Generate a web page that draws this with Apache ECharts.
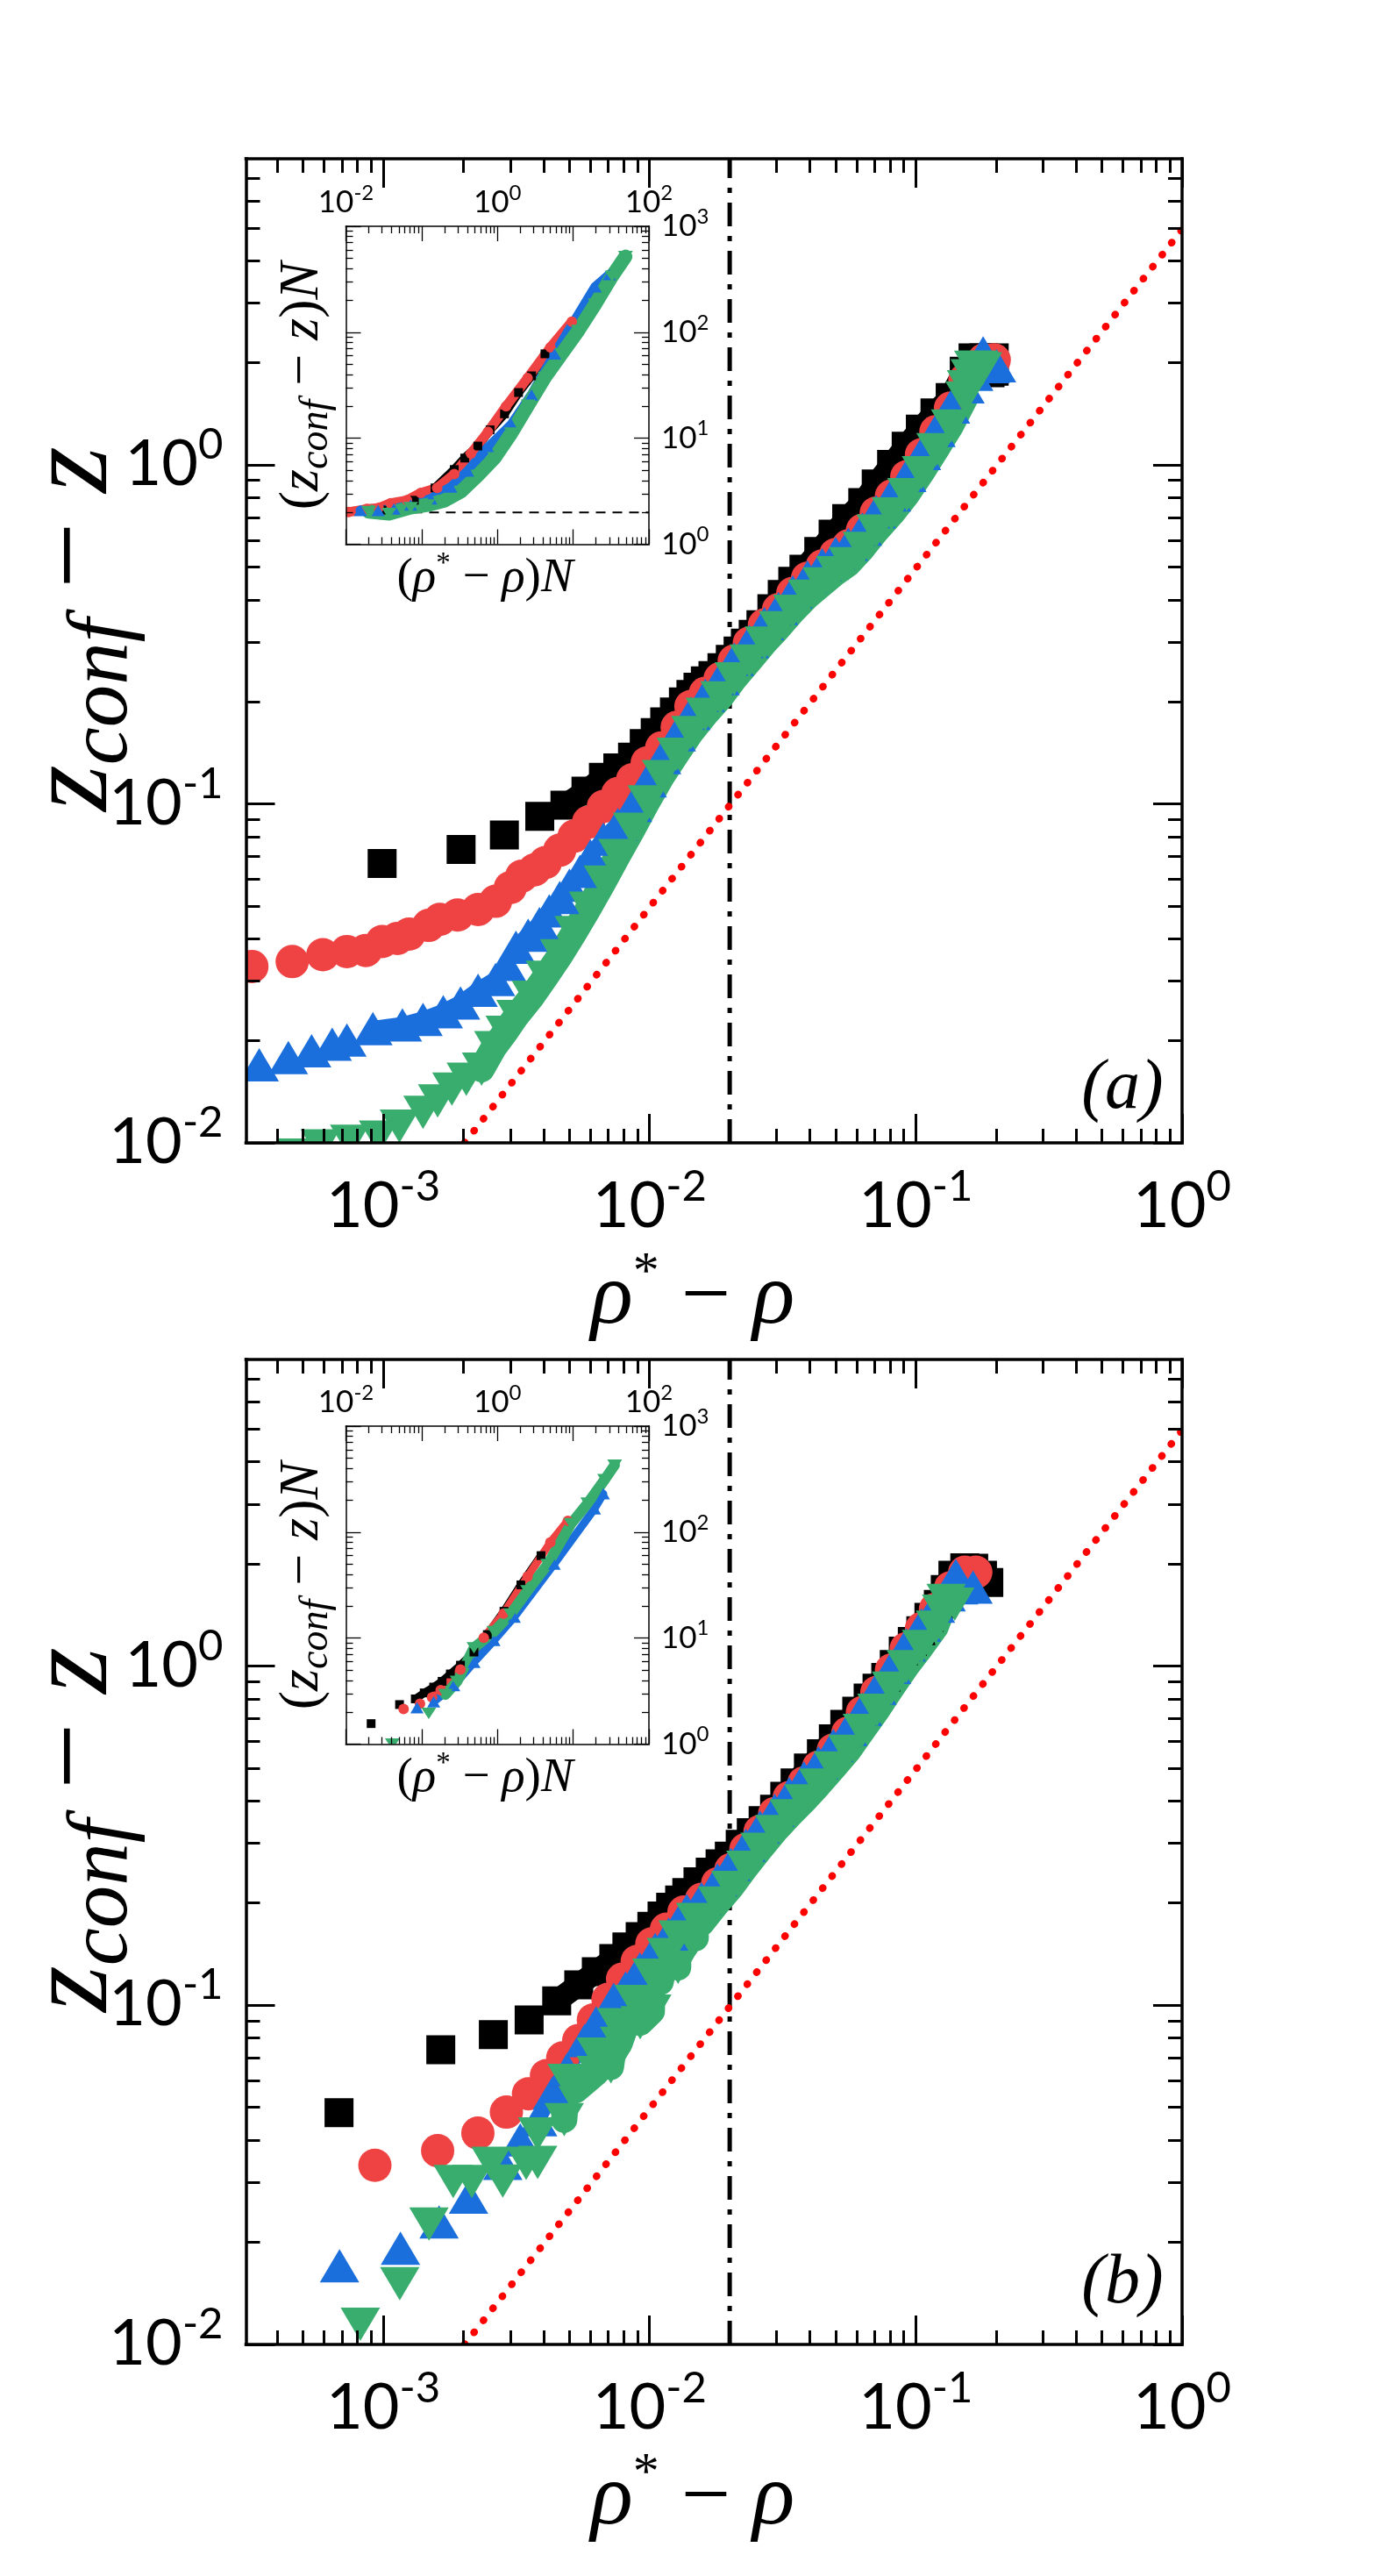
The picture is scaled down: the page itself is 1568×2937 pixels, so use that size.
<!DOCTYPE html>
<html>
<head>
<meta charset="utf-8">
<script src="https://cdn.jsdelivr.net/npm/echarts@6.0.0/dist/echarts.min.js"></script>
<style>
html, body { margin: 0; padding: 0; background: #fff; }
#chart { width: 1568px; height: 2937px; }
</style>
</head>
<body>
<div id="chart"></div>
<script>
var NUM_FONT = 'Lato';
var MATH_FONT = 'Liberation Serif';
var BLACK = '#000000', RED = '#ef4343', BLUE = '#1b6fdc', GREEN = '#38ad6d', DOT_RED = '#ff0000';

// axis ranges
var mainX = [3.05e-4, 1];
var mainY = [0.01, 8];
var insetX = [0.01, 100];
var insetY = [1, 1000];

// major ticks and labelled ticks
var mainXMajor = [1e-3, 1e-2, 1e-1, 1];
var mainYMajor = [0.01, 0.1, 1];
var insetXMajor = [0.01, 0.1, 1, 10, 100];
var insetYMajor = [1, 10, 100, 1000];
var mainXLabels = [1e-3, 1e-2, 1e-1, 1];
var mainYLabels = [0.01, 0.1, 1];
var insetXLabels = [0.01, 1, 100];
var insetYLabels = [1, 10, 100, 1000];

// ---- panel (a), main ----
var sqA = [[9.9e-4,0.0667],[1.96e-3,0.0734],[2.85e-3,0.0810],[3.87e-3,0.0919],[4.81e-3,0.0991],[5.77e-3,0.109],[6.71e-3,0.1197],[7.6e-3,0.1276],[8.63e-3,0.1374],[9.55e-3,0.1507],[0.0105,0.1622],[0.0114,0.1745],[0.0124,0.1868],[0.0134,0.1999],[0.0143,0.2104],[0.0152,0.2209],[0.0162,0.2305],[0.0173,0.2392],[0.0187,0.2522],[0.0201,0.2670],[0.0215,0.2826],[0.0229,0.2981],[0.0245,0.3162],[0.0262,0.3379],[0.0288,0.3764],[0.0315,0.4150],[0.0345,0.4532],[0.038,0.4925],[0.0432,0.5552],[0.0489,0.6245],[0.055,0.6942],[0.0632,0.7738],[0.071,0.8781],[0.0811,1.003],[0.092,1.136],[0.104,1.275],[0.118,1.423],[0.1346,1.579],[0.152,1.888],[0.164,2.07],[0.18,2.07],[0.197,2.07],[0.197,1.89],[0.19,1.87]];
var circA = [[3.21e-4,0.03314],[4.55e-4,0.03425],[5.93e-4,0.0359],[7.3e-4,0.03667],[8.6e-4,0.03695],[9.9e-4,0.03926],[1.13e-3,0.0401],[1.25e-3,0.0413],[1.48e-3,0.0438],[1.63e-3,0.0456],[1.9e-3,0.047],[2.27e-3,0.0488],[2.64e-3,0.0516],[3.0e-3,0.0566],[3.31e-3,0.0612],[3.7e-3,0.0639],[4.06e-3,0.0671],[4.6e-3,0.073],[5.21e-3,0.0803],[5.9e-3,0.0883],[6.71e-3,0.0982],[7.6e-3,0.1072],[8.63e-3,0.1178],[9.8e-3,0.1321],[0.0111,0.1463],[0.0127,0.1683],[0.0143,0.1937],[0.0162,0.212],[0.0184,0.234],[0.0208,0.264],[0.0237,0.298],[0.027,0.337],[0.0305,0.374],[0.0345,0.418],[0.0392,0.463],[0.0445,0.503],[0.05,0.544],[0.0558,0.577],[0.063,0.641],[0.071,0.721],[0.081,0.809],[0.0925,0.923],[0.105,1.071],[0.119,1.253],[0.135,1.47],[0.153,1.78],[0.18,2.04],[0.197,2.04]];
var triA = [[3.42e-4,0.0170],[4.4e-4,0.01785],[5.38e-4,0.0187],[6.43e-4,0.01955],[7.3e-4,0.02012],[9.14e-4,0.02172],[1.18e-3,0.02229],[1.41e-3,0.02313],[1.68e-3,0.02435],[1.95e-3,0.02585],[2.27e-3,0.0282],[2.64e-3,0.03034],[2.9e-3,0.0336],[3.15e-3,0.03778],[3.5e-3,0.04101],[3.86e-3,0.04433],[4.2e-3,0.04837],[4.6e-3,0.05295],[5.0e-3,0.05752],[5.48e-3,0.06325],[6.0e-3,0.07026],[6.71e-3,0.07866],[7.6e-3,0.087],[8.63e-3,0.099],[9.8e-3,0.117],[0.0111,0.137],[0.0126,0.160],[0.0143,0.185],[0.0162,0.209],[0.0184,0.234],[0.0208,0.267],[0.0237,0.301],[0.027,0.340],[0.0305,0.377],[0.0345,0.422],[0.0392,0.467],[0.0445,0.508],[0.05,0.548],[0.0558,0.583],[0.063,0.646],[0.071,0.727],[0.081,0.816],[0.0925,0.931],[0.105,1.081],[0.119,1.264],[0.135,1.483],[0.153,1.70],[0.165,1.85],[0.179,2.14],[0.19,1.95],[0.201,1.96]];
var dtriA = [[4.7e-4,0.0092],[5.8e-4,0.0098],[7.48e-4,0.0101],[9.6e-4,0.0104],[1.15e-3,0.0112],[1.41e-3,0.0123],[1.6e-3,0.0133],[1.81e-3,0.0144],[2.05e-3,0.0154],[2.34e-3,0.0165],[2.6e-3,0.0191],[2.87e-3,0.0212],[3.15e-3,0.0236],[3.6e-3,0.0269],[4.06e-3,0.0308],[4.6e-3,0.0356],[5.21e-3,0.0417],[5.9e-3,0.0492],[6.71e-3,0.0588],[7.6e-3,0.0704],[8.63e-3,0.0842],[9.8e-3,0.1014],[0.0111,0.1203],[0.0126,0.140],[0.0143,0.1623],[0.0162,0.1835],[0.0184,0.2054],[0.0208,0.2338],[0.0237,0.2637],[0.027,0.2982],[0.0305,0.3308],[0.0345,0.370],[0.0392,0.4098],[0.0445,0.4453],[0.05,0.481],[0.0558,0.511],[0.063,0.567],[0.071,0.638],[0.081,0.716],[0.0925,0.817],[0.105,0.948],[0.119,1.109],[0.135,1.301],[0.153,1.575],[0.155,1.7],[0.16,1.83],[0.165,1.94],[0.172,1.94],[0.178,1.92]];

// ---- panel (a), inset ----
var sqAi = [[0.03,2.1],[0.08,2.6],[0.15,3.4],[0.269,5.07],[0.37,6.5],[0.551,8.44],[0.8,12],[1.24,17.0],[1.9,27],[2.82,38.8],[4.24,62.6]];
var circAi = [[0.0108,2.01],[0.0188,2.15],[0.027,2.2],[0.039,2.44],[0.064,2.6],[0.0975,3.05],[0.16,3.4],[0.269,4.6],[0.447,7.2],[0.75,11.5],[1.3,20],[2.5,37],[5,72],[9.6,126]];
var triAi = [[0.0155,2.08],[0.0266,2.08],[0.043,2.15],[0.0716,2.35],[0.132,2.68],[0.243,3.46],[0.405,4.9],[0.75,8.2],[1.53,13.5],[2.82,25.7],[5.7,62.6],[19.5,268],[30,350]];
var dtriAi = [[0.02,2.03],[0.037,1.95],[0.0716,2.22],[0.12,2.35],[0.199,2.58],[0.331,3.15],[0.551,4.46],[0.918,6.53],[1.53,11.2],[2.54,20.5],[4.24,37.6],[7.05,62.6],[11.7,104],[19.5,184],[32.6,338],[49,518]];
var insetDash = [[0.01,2],[100,2]];

// ---- panel (b), main ----
var sqB = [[6.82e-4,0.0482],[1.644e-3,0.0739],[2.59e-3,0.0819],[3.53e-3,0.0905],[4.48e-3,0.1029],[5.42e-3,0.1148],[6.31e-3,0.1256],[7.34e-3,0.1373],[8.22e-3,0.1486],[9.22e-3,0.1593],[0.0102,0.1707],[0.01114,0.1831],[0.0120,0.1943],[0.01297,0.2042],[0.0138,0.2147],[0.0152,0.231],[0.0169,0.2466],[0.0184,0.261],[0.01993,0.2750],[0.0219,0.298],[0.0241,0.3224],[0.0267,0.35],[0.02948,0.378],[0.0322,0.413],[0.0352,0.4518],[0.0395,0.50],[0.0442,0.5513],[0.049,0.61],[0.0541,0.672],[0.06,0.735],[0.0662,0.8035],[0.0715,0.86],[0.0771,0.924],[0.083,1.01],[0.0897,1.105],[0.097,1.18],[0.1044,1.269],[0.112,1.39],[0.1215,1.517],[0.129,1.68],[0.1378,1.850],[0.1527,1.945],[0.165,1.94],[0.178,1.85],[0.188,1.76]];
var circB = [[9.3e-4,0.03373],[1.6e-3,0.03724],[2.266e-3,0.04196],[2.9e-3,0.0484],[3.51e-3,0.0548],[4.1e-3,0.062],[4.72e-3,0.0699],[5.42e-3,0.0787],[6.15e-3,0.0905],[6.98e-3,0.104],[7.92e-3,0.1194],[8.99e-3,0.1346],[0.0102,0.1516],[0.01157,0.1674],[0.01346,0.1880],[0.01567,0.205],[0.018,0.228],[0.0202,0.251],[0.023,0.288],[0.026,0.325],[0.0295,0.367],[0.03345,0.409],[0.038,0.452],[0.0431,0.503],[0.049,0.565],[0.0555,0.633],[0.063,0.729],[0.0714,0.836],[0.081,0.972],[0.092,1.124],[0.105,1.288],[0.1185,1.469],[0.135,1.70],[0.1527,1.888],[0.168,1.888]];
var triB = [[6.85e-4,0.01706],[1.16e-3,0.01922],[1.62e-3,0.02298],[2.09e-3,0.0272],[2.81e-3,0.0342],[3.27e-3,0.0401],[3.8e-3,0.046],[4.32e-3,0.0551],[4.9e-3,0.0646],[5.7e-3,0.0787],[6.3e-3,0.0888],[7.34e-3,0.104],[8.13e-3,0.1125],[9.2e-3,0.128],[0.0105,0.146],[0.0118,0.162],[0.0128,0.175],[0.0138,0.19],[0.01567,0.206],[0.018,0.234],[0.0202,0.26],[0.023,0.296],[0.026,0.335],[0.0295,0.375],[0.03345,0.42],[0.038,0.468],[0.0431,0.518],[0.049,0.583],[0.0555,0.65],[0.063,0.745],[0.0714,0.86],[0.081,0.99],[0.092,1.155],[0.105,1.32],[0.1185,1.50],[0.13,1.62],[0.1413,1.847],[0.145,1.70],[0.164,1.707]];
var dtriB = [[8.2e-4,0.01147],[1.153e-3,0.0151],[1.485e-3,0.02265],[1.83e-3,0.03022],[2.15e-3,0.03022],[2.54e-3,0.0342],[2.81e-3,0.0303],[3.44e-3,0.0342],[3.8e-3,0.0344],[3.8e-3,0.0417],[4.78e-3,0.046],[4.9e-3,0.06],[5.28e-3,0.0562],[6.31e-3,0.0633],[6.31e-3,0.0717],[7.16e-3,0.0658],[7.52e-3,0.0875],[7.72e-3,0.0772],[8.76e-3,0.1025],[9.22e-3,0.0888],[0.0102,0.096],[0.0102,0.1226],[0.011,0.117],[0.01157,0.1409],[0.0128,0.1293],[0.0128,0.1587],[0.0149,0.1578],[0.0149,0.1788],[0.01567,0.1745],[0.018,0.2],[0.0202,0.2223],[0.023,0.255],[0.026,0.288],[0.0295,0.325],[0.03345,0.3616],[0.038,0.40],[0.0431,0.4453],[0.049,0.50],[0.0555,0.560],[0.063,0.645],[0.0714,0.740],[0.081,0.86],[0.092,0.995],[0.105,1.14],[0.1185,1.30],[0.125,1.45],[0.130,1.56],[0.14,1.52]];

// ---- panel (b), inset ----
var sqBiSparse = [[0.0215,1.56],[0.051,2.36]];
var sqBi = [[0.0824,2.67],[0.108,3.04],[0.144,3.45],[0.186,3.91],[0.239,4.59],[0.325,5.55],[0.49,7.39],[0.736,10.8],[1.22,17.9],[2.04,31.8],[3.76,60]];
var circBiSparse = [[0.0577,2.14],[0.095,2.4]];
var circBi = [[0.137,2.76],[0.178,3.23],[0.325,5.05],[0.66,10.1],[1.2,17],[2.5,38],[5,80],[8.5,128]];
var triBiSparse = [[0.0867,2.21]];
var triBi = [[0.144,2.51],[0.265,3.56],[0.49,5.91],[0.9,9.5],[1.67,15.8],[5.6,50],[19.1,166],[25,230]];
var dtriBiSparse = [[0.041,1.0],[0.124,1.95]];
var dtriBi = [[0.206,2.94],[0.294,3.91],[0.49,8.1],[0.9,11.5],[1.5,16.9],[2.5,28],[4.6,49.6],[9.4,120],[15.6,188],[26,312],[35.3,429]];

// guide lines (same in both panels)
var dotLine = [[0.00202,0.01],[1,4.95]];
var dashDot = [[0.02,0.01],[0.02,8]];

// minor log ticks 2..9 within a range
function minorTicks(lo, hi) {
  var out = [];
  for (var e = -5; e <= 4; e++) {
    for (var m = 2; m <= 9; m++) {
      var v = +(m * Math.pow(10, e)).toPrecision(6);
      if (v > lo && v < hi * 0.999) out.push(v);
    }
  }
  return out;
}

function expLabels(values, size, margin) {
  var L = Math.round(size * 1.3);
  return {
    show: true, customValues: values, margin: margin,
    formatter: function (v) { return '{b|10}{s|' + Math.round(Math.log10(v)) + '}'; },
    rich: {
      b: { fontFamily: NUM_FONT, fontSize: size, lineHeight: L, color: '#000' },
      s: { fontFamily: NUM_FONT, fontSize: Math.round(size * 0.68), lineHeight: Math.round(size * 0.64), verticalAlign: 'top', color: '#000' }
    }
  };
}

// rich styles for the math titles (k scales the size)
function mathRich(k) {
  return {
    it: { fontFamily: MATH_FONT, fontStyle: 'italic', fontSize: Math.round(100 * k), lineHeight: Math.round(120 * k), fill: '#000' },
    up: { fontFamily: MATH_FONT, fontSize: Math.round(100 * k), lineHeight: Math.round(120 * k), fill: '#000' },
    sup: { fontFamily: MATH_FONT, fontSize: Math.round(60 * k), lineHeight: Math.round(64 * k), verticalAlign: 'top', fill: '#000' },
    sub: { fontFamily: MATH_FONT, fontStyle: 'italic', fontSize: Math.round(72 * k), lineHeight: Math.round(76 * k), verticalAlign: 'bottom', fill: '#000' }
  };
}
var X_TITLE = '{it|ρ}{sup|*}{up| − }{it|ρ}';
var Y_TITLE = '{it|z}{sub|conf}{up| − }{it|z}';
var X_INSET_TITLE = '{up|(}{it|ρ}{sup|*}{up| − }{it|ρ}{up|)}{it|N}';
var Y_INSET_TITLE = '{up|(}{it|z}{sub|conf}{up| − }{it|z}{up|)}{it|N}';

function ax(gi, pos, range, ticks, len, tw, lineW, label) {
  var a = {
    type: 'log', logBase: 10, gridIndex: gi, position: pos,
    min: range[0], max: range[1], z: 10, silent: true,
    axisLine: { show: lineW > 0, onZero: false, lineStyle: { color: '#000', width: lineW || 1, cap: 'square' } },
    axisTick: { show: true, inside: true, length: len, customValues: ticks, lineStyle: { color: '#000', width: tw } },
    axisLabel: { show: false },
    splitLine: { show: false },
    minorTick: { show: false },
    minorSplitLine: { show: false },
    axisPointer: { show: false }
  };
  if (label) a.axisLabel = label;
  return a;
}

var grids = [
  { left: 280.5, top: 181, width: 1067.5, height: 1122 },
  { left: 394.5, top: 258, width: 345.5, height: 362.5 },
  { left: 280.5, top: 1550, width: 1067.5, height: 1123 },
  { left: 394.5, top: 1626, width: 345.5, height: 362.5 }
];
var isMain = [true, false, true, false];

var xAxes = [], yAxes = [];
for (var g = 0; g < 4; g++) {
  var m = isMain[g];
  var xr = m ? mainX : insetX, yr = m ? mainY : insetY;
  var xMaj = m ? mainXMajor : insetXMajor, yMaj = m ? mainYMajor : insetYMajor;
  var xMin = minorTicks(xr[0], xr[1]), yMin = minorTicks(yr[0], yr[1]);
  var L = m ? 33 : 17, l = m ? 16 : 8, tw = m ? 3 : 1.3, lw = m ? 3.5 : 1.5;
  xAxes.push(ax(g, 'bottom', xr, xMaj, L, tw, lw, m ? expLabels(mainXLabels, 72, 26) : null));
  xAxes.push(ax(g, 'bottom', xr, xMin, l, tw, 0, null));
  xAxes.push(ax(g, 'top', xr, xMaj, L, tw, lw, m ? null : expLabels(insetXLabels, 35, 4)));
  xAxes.push(ax(g, 'top', xr, xMin, l, tw, 0, null));
  yAxes.push(ax(g, 'left', yr, yMaj, L, tw, lw, m ? expLabels(mainYLabels, 72, 26) : null));
  yAxes.push(ax(g, 'left', yr, yMin, l, tw, 0, null));
  yAxes.push(ax(g, 'right', yr, yMaj, L, tw, lw, m ? null : expLabels(insetYLabels, 35, 14)));
  yAxes.push(ax(g, 'right', yr, yMin, l, tw, 0, null));
}

function pts(data, gi, symbol, size, color, rotate) {
  return { type: 'scatter', data: data, xAxisIndex: gi * 4, yAxisIndex: gi * 4, symbol: symbol, symbolSize: size,
    symbolRotate: rotate || 0, itemStyle: { color: color, opacity: 1 }, clip: false, silent: true, z: 2 };
}
function band(data, gi, symbol, size, color, rotate, width) {
  return { type: 'line', data: data, xAxisIndex: gi * 4, yAxisIndex: gi * 4, symbol: symbol, symbolSize: size,
    symbolRotate: rotate || 0, showSymbol: true, showAllSymbol: true, itemStyle: { color: color, opacity: 1 },
    lineStyle: { color: color, width: width, join: 'round', cap: 'round' }, clip: false, silent: true, z: 2 };
}
// solid stroke under the dense part of a marker cloud
function fill(data, gi, color, width) {
  return { type: 'line', data: data, xAxisIndex: gi * 4, yAxisIndex: gi * 4, symbol: 'none', showSymbol: false,
    lineStyle: { color: color, width: width, join: 'round', cap: 'round' }, clip: false, silent: true, z: 2 };
}
function guide(data, gi, color, width, type, cap) {
  return { type: 'line', data: data, xAxisIndex: gi * 4, yAxisIndex: gi * 4, symbol: 'none', showSymbol: false,
    lineStyle: { color: color, width: width, type: type, cap: cap || 'butt' }, clip: true, silent: true, z: 2 };
}

var SQ = 33, CI = 38, TR = [45, 38];
var series = [
  // (a) main
  guide(dashDot, 0, BLACK, 5, [27, 11, 6, 11]),
  guide(dotLine, 0, DOT_RED, 8.5, [0.5, 16.9], 'round'),
  fill(sqA.slice(4, 41), 0, BLACK, 26),
  pts(sqA, 0, 'rect', SQ, BLACK),
  fill(circA.slice(5, 46), 0, RED, 24),
  pts(circA, 0, 'circle', CI, RED),
  fill(triA.slice(5, 47), 0, BLUE, 18),
  pts(triA, 0, 'triangle', TR, BLUE),
  fill(dtriA.slice(9, 44), 0, GREEN, 30),
  pts(dtriA, 0, 'triangle', TR, GREEN, 180),
  // (a) inset
  guide(insetDash, 1, BLACK, 2, [11, 8]),
  band(sqAi, 1, 'rect', 10, BLACK, 0, 10),
  band(circAi, 1, 'circle', 12, RED, 0, 11),
  band(triAi, 1, 'triangle', [15, 13], BLUE, 0, 11),
  band(dtriAi, 1, 'triangle', [17, 13], GREEN, 180, 16),
  // (b) main
  guide(dashDot, 2, BLACK, 5, [27, 11, 6, 11]),
  guide(dotLine, 2, DOT_RED, 8.5, [0.5, 16.9], 'round'),
  fill(sqB.slice(4, 42), 2, BLACK, 26),
  pts(sqB, 2, 'rect', SQ, BLACK),
  fill(circB.slice(5, 34), 2, RED, 24),
  pts(circB, 2, 'circle', CI, RED),
  fill(triB.slice(6, 36), 2, BLUE, 18),
  pts(triB, 2, 'triangle', TR, BLUE),
  fill(dtriB.slice(10, 46), 2, GREEN, 30),
  pts(dtriB, 2, 'triangle', TR, GREEN, 180),
  // (b) inset
  pts(sqBiSparse, 3, 'rect', 10, BLACK),
  band(sqBi, 3, 'rect', 10, BLACK, 0, 9),
  pts(circBiSparse, 3, 'circle', 12, RED),
  band(circBi, 3, 'circle', 12, RED, 0, 9),
  pts(triBiSparse, 3, 'triangle', [15, 13], BLUE),
  band(triBi, 3, 'triangle', [15, 13], BLUE, 0, 9),
  pts(dtriBiSparse, 3, 'triangle', [17, 13], GREEN, 180),
  band(dtriBi, 3, 'triangle', [17, 13], GREEN, 180, 12)
];

// white strips just outside each frame so markers look clipped at the axes
function masks(gr, t) {
  var x0 = gr.left, y0 = gr.top, x1 = gr.left + gr.width, y1 = gr.top + gr.height;
  var r = function (x, y, w, h) { return { type: 'rect', z: 5, silent: true, shape: { x: x, y: y, width: w, height: h }, style: { fill: '#fff' } }; };
  return [r(x0 - t, y0 - t, t, gr.height + 2 * t), r(x1, y0 - t, t, gr.height + 2 * t),
          r(x0 - t, y0 - t, gr.width + 2 * t, t), r(x0 - t, y1, gr.width + 2 * t, t)];
}
function title(text, x, y, k, rot) {
  return { type: 'text', z: 20, silent: true, x: x, y: y, rotation: rot || 0,
    style: { text: text, rich: mathRich(k), fill: '#000', textAlign: 'center', textVerticalAlign: 'middle' } };
}
var graphics = [].concat(masks(grids[0], 40), masks(grids[1], 22), masks(grids[2], 40), masks(grids[3], 22));
graphics.push(title(X_TITLE, 790, 1482, 1.0));
graphics.push(title(X_TITLE, 790, 2851, 1.0));
graphics.push(title(Y_TITLE, 86, 717, 1.35, Math.PI / 2));
graphics.push(title(Y_TITLE, 86, 2086, 1.35, Math.PI / 2));
graphics.push(title(X_INSET_TITLE, 553, 660, 0.55));
graphics.push(title(X_INSET_TITLE, 553, 2028, 0.55));
graphics.push(title(Y_INSET_TITLE, 345, 440, 0.64, Math.PI / 2));
graphics.push(title(Y_INSET_TITLE, 345, 1808, 0.64, Math.PI / 2));
graphics.push({ type: 'text', z: 20, silent: true, x: 1280, y: 1242,
  style: { text: '(a)', font: 'italic 80px "Liberation Serif"', fill: '#000', textAlign: 'center', textVerticalAlign: 'middle' } });
graphics.push({ type: 'text', z: 20, silent: true, x: 1280, y: 2604,
  style: { text: '(b)', font: 'italic 80px "Liberation Serif"', fill: '#000', textAlign: 'center', textVerticalAlign: 'middle' } });

var myChart = echarts.init(document.getElementById('chart'), null, { renderer: 'canvas', devicePixelRatio: 1 });
myChart.setOption({
  backgroundColor: '#ffffff',
  animation: false,
  tooltip: { show: false },
  grid: grids.map(function (gr) {
    return { left: gr.left, top: gr.top, width: gr.width, height: gr.height, containLabel: false, outerBoundsMode: 'none', show: false };
  }),
  xAxis: xAxes,
  yAxis: yAxes,
  series: series,
  graphic: { elements: graphics }
});
</script>
</body>
</html>
